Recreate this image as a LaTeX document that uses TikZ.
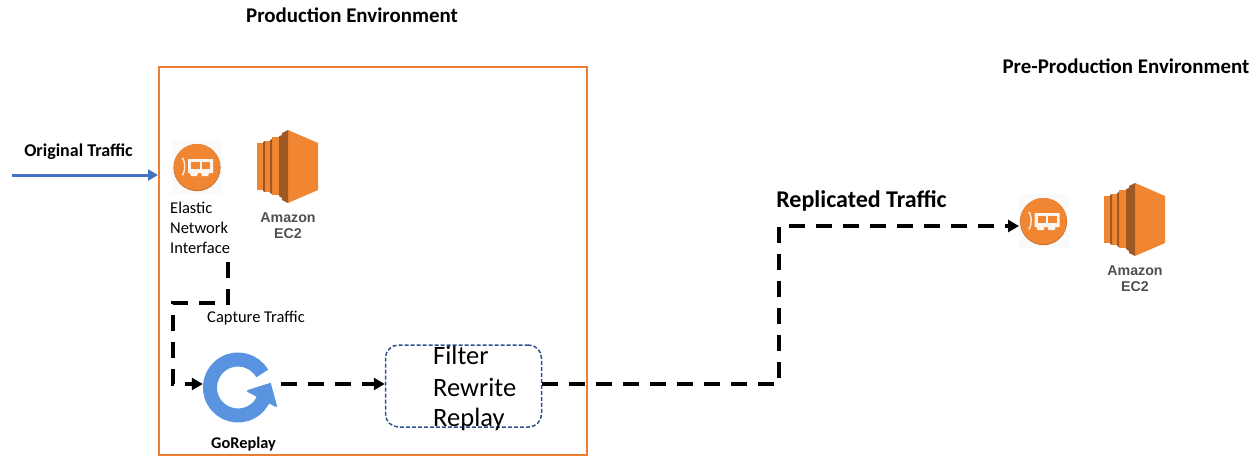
\documentclass[tikz,border=0pt]{standalone}
\usepackage{fontspec}
\setmainfont{Carlito}
\newfontfamily\arialf{Liberation Sans}
\usetikzlibrary{arrows.meta}
\definecolor{awsor}{RGB}{240,134,50}
\definecolor{awsdk}{RGB}{158,88,36}
\definecolor{awsrim}{RGB}{205,115,50}
\definecolor{frameor}{RGB}{237,125,49}
\definecolor{flowblue}{RGB}{68,114,196}
\definecolor{gblue}{RGB}{90,148,224}
\definecolor{boxblue}{RGB}{47,82,143}
\definecolor{ectext}{RGB}{80,80,80}
\tikzset{
  x=1pt,y=-1pt,
  lab/.style={inner sep=0pt,font=\fontsize{16.5}{20}\selectfont,align=left,text=black},
  head/.style={inner sep=0pt,font=\fontsize{20.9}{22}\selectfont\bfseries,text=black},
  flow/.style={draw=black,line width=3.6pt,dash pattern=on 16pt off 11pt,-{Triangle[length=11pt,width=12pt]}},
  ectxt/.style={inner sep=0pt,font=\fontsize{14.2}{16}\selectfont\arialf\bfseries,align=center,text=ectext},
  ec2/.pic={
    \fill[awsor] (31,0) -- (61,13) -- (61,60) -- (31,73) -- cycle;
    \fill[awsdk] (25,3) -- (31,0) -- (31,73) -- (25,70) -- cycle;
    \fill[awsor] (15,7) -- (22,7) -- (22,65) -- (15,65) -- cycle;
    \fill[awsdk] (22,6) -- (25,5) -- (25,68) -- (22,66) -- cycle;
    \fill[awsor] (8,11) -- (13,11) -- (13,62) -- (8,62) -- cycle;
    \fill[awsdk] (13,10) -- (15,9) -- (15,64) -- (13,63) -- cycle;
    \fill[awsor] (0,13) -- (6,13) -- (6,60) -- (0,60) -- cycle;
    \fill[awsdk] (6,12) -- (8,11) -- (8,62) -- (6,61) -- cycle;
  },
  eni/.pic={
    \fill[black!2] (-25,-27) rectangle (25,27);
    \fill[awsrim] (0,0.6) circle[radius=23.6];
    \fill[awsor] (0,0) circle[radius=23];
    \draw[white!85!awsor,line width=1.4pt] (-15,-9) .. controls (-11.5,-8) and (-11.5,7) .. (-15,8);
    \fill[white!92!awsor] (-9,-8) -- (16,-8) -- (16,6) -- (12,6) -- (11,9) -- (5,9) -- (4,6) -- (1,6) -- (0,9) -- (-6,9) -- (-7,6) -- (-9,6) -- cycle;
    \fill[awsor] (-6,-5.5) rectangle (2.5,2);
    \fill[awsor] (4.5,-5.5) rectangle (13,2);
  }
}
\begin{document}
\begin{tikzpicture}
\useasboundingbox (0,0) rectangle (1256,466);
\node[draw=frameor,line width=2pt,minimum width=428pt,minimum height=388pt,inner sep=0pt] (prod) at (373,261) {};
\node[head,anchor=center] (prodt) at (352,15) {Production Environment};
\node[head,anchor=center] (pret) at (1126,66) {Pre-Production Environment};
\node[inner sep=0pt,font=\fontsize{18}{20}\selectfont\bfseries,anchor=center] (orig) at (78.5,152) {Original Traffic};
\node[inner sep=0pt,font=\fontsize{24}{26}\selectfont\bfseries,anchor=center] (repl) at (861.5,201) {Replicated Traffic};

\coordinate (origin) at (12,175);
\pic at (197,167) {eni};
\pic at (257,130) {ec2};
\node[ectxt] (ecl) at (288,225.5) {Amazon\\EC2};
\node[lab,anchor=north west] (enil) at (170,202) {Elastic\\Network\\Interface};
\pic at (1043.5,221) {eni};
\coordinate (enib) at (1019,226);
\pic at (1104,183) {ec2};
\node[ectxt] (ecr) at (1135,279) {Amazon\\EC2};

\node[lab,anchor=center] (capt) at (256,318) {Capture Traffic};

% GoReplay icon
\node[inner sep=0pt,minimum width=78pt,minimum height=78pt] (gor) at (242,387) {};
\draw[gblue,line width=14pt] (262.2,373.5) arc[start angle=-30,delta angle=-310,radius=28];
\fill[gblue,draw=gblue,line width=2pt,line join=round] (248,391) -- (270,384) -- (276,406) -- cycle;
\node[inner sep=0pt,font=\fontsize{16.3}{18}\selectfont\bfseries,anchor=center] (gol) at (243.5,444) {GoReplay};

% Filter box
\node[draw=boxblue,line width=1.5pt,dashed,dash pattern=on 4pt off 2pt,rounded corners=13pt,minimum width=156pt,minimum height=82pt,inner sep=0pt] (filt) at (463.5,386) {};
\node[inner sep=0pt,anchor=west,font=\fontsize{26.5}{30}\selectfont] (f1) at (433,355) {Filter};
\node[inner sep=0pt,anchor=west,font=\fontsize{26.5}{30}\selectfont] (f2) at (433,387) {Rewrite};
\node[inner sep=0pt,anchor=west,font=\fontsize{26.5}{30}\selectfont] (f3) at (433,419) {Replay};

% Connectors
\draw[draw=flowblue,line width=3pt,-{Triangle[length=10pt,width=11pt]}] (origin) -- (prod.west |- origin);
\coordinate (c1) at (228,262);
\draw[flow] (c1) -- (228,303) -- (173,303) -- (173,384) -- (gor.west |- 0,384);
\draw[flow] (gor.east |- 0,384) -- (filt.west |- 0,384);
\draw[flow] (filt.east |- 0,384) -- (779,384) -- (779,226) -- (enib);
\end{tikzpicture}
\end{document}
